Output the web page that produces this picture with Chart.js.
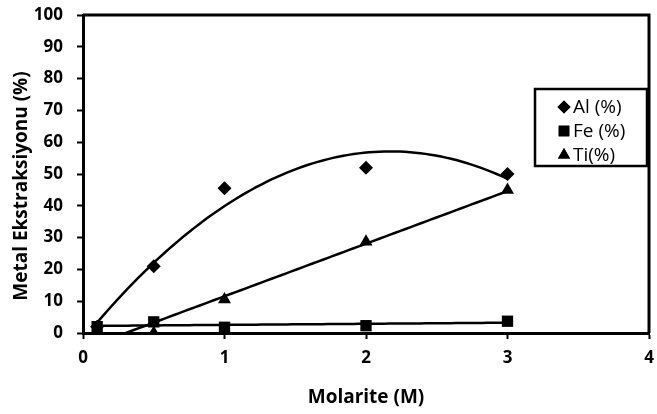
<!DOCTYPE html>
<html>
<head>
<meta charset="utf-8">
<script src="https://cdn.jsdelivr.net/npm/chart.js@4.4.1/dist/chart.umd.min.js"></script>
<style>
html,body{margin:0;padding:0;background:#fff;}
#wrap{position:relative;width:657px;height:414px;}
</style>
</head>
<body>
<div id="wrap"><canvas id="c" width="657" height="414"></canvas></div>
<script>
// ---- data ----
const molarity = [0.1, 0.5, 1, 2, 3];
const alValues = [2, 21, 45.5, 52, 50];
const feValues = [2, 3.5, 1.8, 2.3, 3.7];
const tiValues = [0, 0, 10.5, 28.7, 45];
const seriesNames = ['Al (%)', 'Fe (%)', 'Ti(%)'];
const xTicks = [0, 1, 2, 3, 4];
const yTicks = [0, 10, 20, 30, 40, 50, 60, 70, 80, 90, 100];
const xTitle = 'Molarite (M)';
const yTitle = 'Metal Ekstraksiyonu (%)';

// least-squares polynomial fit (trendlines, as in the spreadsheet)
function polyfit(xs, ys, deg) {
  const n = deg + 1;
  const A = [], b = [];
  for (let i = 0; i < n; i++) {
    A.push([]);
    for (let j = 0; j < n; j++) A[i].push(xs.reduce((s, x) => s + Math.pow(x, i + j), 0));
    b.push(xs.reduce((s, x, k) => s + Math.pow(x, i) * ys[k], 0));
  }
  for (let i = 0; i < n; i++) {
    let p = i;
    for (let r = i + 1; r < n; r++) if (Math.abs(A[r][i]) > Math.abs(A[p][i])) p = r;
    [A[i], A[p]] = [A[p], A[i]]; [b[i], b[p]] = [b[p], b[i]];
    for (let r = i + 1; r < n; r++) {
      const f = A[r][i] / A[i][i];
      for (let c = i; c < n; c++) A[r][c] -= f * A[i][c];
      b[r] -= f * b[i];
    }
  }
  const coef = new Array(n).fill(0);
  for (let i = n - 1; i >= 0; i--) {
    let s = b[i];
    for (let c = i + 1; c < n; c++) s -= A[i][c] * coef[c];
    coef[i] = s / A[i][i];
  }
  return coef;
}
function trend(xs, ys, deg) {
  const coef = polyfit(xs, ys, deg);
  const x0 = xs[0], x1 = xs[xs.length - 1];
  const pts = [];
  const N = 80;
  for (let k = 0; k <= N; k++) {
    const x = x0 + (x1 - x0) * k / N;
    pts.push({x: x, y: coef.reduce((s, c, i) => s + c * Math.pow(x, i), 0)});
  }
  return pts;
}
const toPts = ys => molarity.map((x, i) => ({x: x, y: ys[i]}));

const markerStyles = ['rectRot', 'rect', 'triangle'];
const markerRadius = [7, 8, 7.5];
const legendRadius = [6.5, 7.5, 7];

const FONT = '"Open Sans", Lato, sans-serif';

const decorPlugin = {
  id: 'decor',
  afterDraw(chart) {
    const ctx = chart.ctx;
    const {top, right, bottom, left} = chart.chartArea;
    ctx.save();
    // plot area frame (top and right)
    ctx.strokeStyle = '#000';
    ctx.lineWidth = 3;
    ctx.beginPath();
    ctx.moveTo(left, top); ctx.lineTo(right, top); ctx.lineTo(right, bottom);
    ctx.stroke();
    // y axis title
    ctx.fillStyle = '#000';
    ctx.font = 'bold 19px ' + FONT;
    ctx.textAlign = 'center';
    ctx.textBaseline = 'middle';
    ctx.translate(22, 186);
    ctx.rotate(-Math.PI / 2);
    ctx.fillText(yTitle, 0, 0);
    ctx.restore();

    ctx.save();
    // legend box
    const bx = 535, by = 89, bw = 112, bh = 77;
    ctx.fillStyle = '#fff';
    ctx.fillRect(bx, by, bw, bh);
    ctx.strokeStyle = '#000';
    ctx.lineWidth = 2.5;
    ctx.strokeRect(bx, by, bw, bh);
    ctx.fillStyle = '#000';
    ctx.font = '19px ' + FONT;
    ctx.textBaseline = 'middle';
    ctx.textAlign = 'left';
    const rows = [107, 131, 155];
    seriesNames.forEach((name, i) => {
      const cy = rows[i];
      Chart.helpers.drawPoint(ctx, {pointStyle: markerStyles[i], radius: legendRadius[i], borderWidth: 0}, 564, cy);
      ctx.fill();
      ctx.fillText(name, 573, cy + 1);
    });
    ctx.restore();
  }
};

const mk = (label, ys, i) => ({
  label: label,
  data: toPts(ys),
  showLine: false,
  pointStyle: markerStyles[i],
  pointRadius: markerRadius[i],
  pointHoverRadius: markerRadius[i],
  pointBackgroundColor: '#000',
  pointBorderColor: '#000',
  pointBorderWidth: 0,
  order: 0
});
const tl = (ys, deg) => ({
  label: 'trend',
  data: trend(molarity, ys, deg),
  showLine: true,
  pointRadius: 0,
  borderColor: '#000',
  borderWidth: 2.5,
  tension: 0,
  fill: false,
  order: 1
});

new Chart(document.getElementById('c'), {
  type: 'scatter',
  data: {
    datasets: [
      tl(alValues, 2), tl(feValues, 1), tl(tiValues, 1),
      mk(seriesNames[0], alValues, 0),
      mk(seriesNames[1], feValues, 1),
      mk(seriesNames[2], tiValues, 2)
    ]
  },
  options: {
    responsive: false,
    animation: false,
    events: [],
    layout: {padding: {top: 15, right: 1, left: 0, bottom: 0}},
    plugins: {legend: {display: false}, tooltip: {enabled: false}},
    scales: {
      x: {
        type: 'linear', min: 0, max: 4,
        afterBuildTicks: s => { s.ticks = xTicks.map(v => ({value: v})); },
        afterFit: s => { s.height = 81; s.paddingRight = 0; s.paddingLeft = 0; },
        ticks: {color: '#000', font: {family: FONT, size: 17, weight: 'bold'}, padding: 9, maxRotation: 0},
        grid: {display: true, drawOnChartArea: false, drawTicks: true, tickLength: 6, tickWidth: 2, color: '#000'},
        border: {display: true, color: '#000', width: 3},
        title: {display: true, text: xTitle, color: '#000', font: {family: FONT, size: 19, weight: 'bold'}, padding: {top: 0, bottom: 5}}
      },
      y: {
        type: 'linear', min: 0, max: 100,
        afterBuildTicks: s => { s.ticks = yTicks.map(v => ({value: v})); },
        afterFit: s => { s.width = 83; s.paddingTop = 0; s.paddingBottom = 0; },
        ticks: {color: '#000', font: {family: FONT, size: 17, weight: 'bold'}, padding: 14},
        grid: {display: true, drawOnChartArea: false, drawTicks: true, tickLength: 6, tickWidth: 2, color: '#000'},
        border: {display: true, color: '#000', width: 3},
        title: {display: false}
      }
    }
  },
  plugins: [decorPlugin]
});
</script>
</body>
</html>
